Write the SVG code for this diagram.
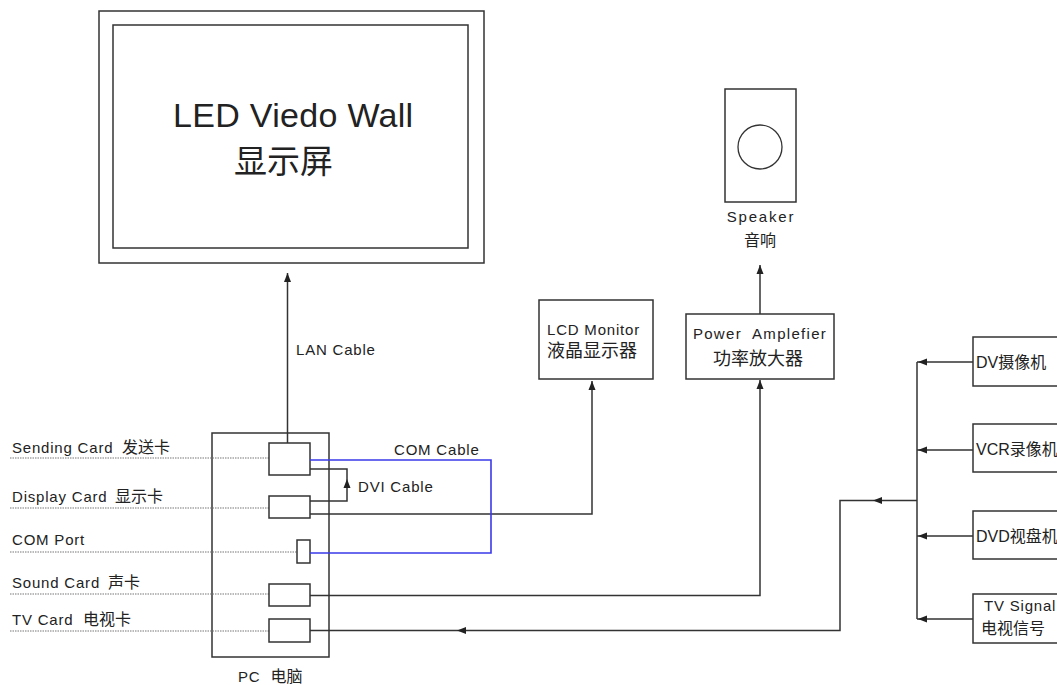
<svg xmlns="http://www.w3.org/2000/svg" xmlns:xlink="http://www.w3.org/1999/xlink" width="1057" height="685" viewBox="0 0 1057 685">
<style>
text{font-family:"Liberation Sans","Noto Sans CJK SC",sans-serif;fill:#222;}
.t{font-size:15px;letter-spacing:0.8px;}
.c{font-size:16px;letter-spacing:0;}
.box{fill:#fff;stroke:#333;stroke-width:1.5;}
.ln{fill:none;stroke:#333;stroke-width:1.5;}
.dot{fill:none;stroke:#777;stroke-width:1.2;stroke-dasharray:1.5 1;}
.blue{fill:none;stroke:#3a3aea;stroke-width:1.6;}
.ah{fill:#222;}
</style>
<defs>
<path id="ah" d="M0,0 L-9,-3.5 L-9,3.5 Z"/>
</defs>
<rect width="1057" height="685" fill="#fff"/>

<g id="led-wall">
<rect class="box" x="99" y="11" width="385" height="252"/>
<rect class="box" x="113" y="25" width="355" height="223"/>
<text x="173" y="127" style="font-size:34px;letter-spacing:0.3px;">LED Viedo Wall</text>
<text x="234" y="173" style="font-size:33px;">显示屏</text>
</g>

<g id="speaker">
<rect class="box" x="725" y="89" width="71" height="113"/>
<circle cx="760" cy="147" r="22" fill="none" stroke="#333" stroke-width="1.3"/>
<text class="t" x="761" y="222" text-anchor="middle" style="letter-spacing:1.8px;">Speaker</text>
<text class="c" x="760" y="246" text-anchor="middle">音响</text>
</g>

<g id="lcd-monitor">
<rect class="box" x="539" y="300" width="114" height="79"/>
<text class="t" x="547" y="335">LCD Monitor</text>
<text x="547" y="357" style="font-size:18px;">液晶显示器</text>
</g>

<g id="power-amplifier">
<rect class="box" x="686" y="314" width="148" height="65"/>
<text class="t" x="760" y="339" text-anchor="middle" xml:space="preserve" style="letter-spacing:1.3px;">Power  Amplefier</text>
<text x="758" y="365" text-anchor="middle" style="font-size:18px;">功率放大器</text>
</g>

<g id="pc">
<rect class="box" x="212" y="433" width="117" height="224"/>
<text class="t" x="238" y="682" xml:space="preserve">PC  <tspan class="c">电脑</tspan></text>
</g>

<g id="card-labels">
<path class="dot" d="M10,458 H269 M10,508 H269 M10,552 H297 M10,594 H269 M10,631 H269"/>
<text class="t" x="12" y="453">Sending Card <tspan class="c" x="122">发送卡</tspan></text>
<text class="t" x="12" y="502">Display Card <tspan class="c" x="115">显示卡</tspan></text>
<text class="t" x="12" y="545">COM Port</text>
<text class="t" x="12" y="588">Sound Card <tspan class="c" x="108">声卡</tspan></text>
<text class="t" x="12" y="625">TV Card <tspan class="c" x="83">电视卡</tspan></text>
</g>

<g id="sending-card"><rect class="box" x="269" y="443" width="41" height="32"/></g>
<g id="display-card"><rect class="box" x="269" y="496" width="41" height="22"/></g>
<g id="com-port"><rect class="box" x="297" y="540" width="13" height="23"/></g>
<g id="sound-card"><rect class="box" x="269" y="584" width="41" height="22"/></g>
<g id="tv-card"><rect class="box" x="269" y="619" width="41" height="23"/></g>

<g id="dv"><rect class="box" x="973" y="337" width="100" height="49"/><text class="c" x="976" y="368">DV摄像机</text></g>
<g id="vcr"><rect class="box" x="973" y="424" width="100" height="48"/><text class="c" x="976" y="455">VCR录像机</text></g>
<g id="dvd"><rect class="box" x="973" y="511" width="100" height="48"/><text class="c" x="976" y="542">DVD视盘机</text></g>
<g id="tv-signal"><rect class="box" x="973" y="594" width="100" height="49"/><text class="t" x="984" y="611">TV Signal</text><text class="c" x="981" y="634">电视信号</text></g>

<g id="connectors">
<path class="ln" d="M287.5,443 V273"/>
<path class="ln" d="M760,314 V265"/>
<path class="ln" d="M310,514 H592 V381"/>
<path class="ln" d="M310,595.5 H760 V380"/>
<path class="ln" d="M310,469 H347 V501 H310"/>
<path class="blue" d="M310,460 H491 V553 H310"/>
<path class="ln" d="M310,630.5 H840 V500.5 H917"/>
<path class="ln" d="M917,362 V619"/>
<path class="ln" d="M973,362 H917 M973,450 H917 M973,536 H917 M973,619 H917"/>
<use xlink:href="#ah" class="ah" transform="translate(287.5,273) rotate(-90)"/>
<use xlink:href="#ah" class="ah" transform="translate(760,265) rotate(-90)"/>
<use xlink:href="#ah" class="ah" transform="translate(592,381) rotate(-90)"/>
<use xlink:href="#ah" class="ah" transform="translate(760,380) rotate(-90)"/>
<use xlink:href="#ah" class="ah" transform="translate(347,479) rotate(-90)"/>
<use xlink:href="#ah" class="ah" transform="translate(457,630.5) rotate(180)"/>
<use xlink:href="#ah" class="ah" transform="translate(873,500.5) rotate(180)"/>
<use xlink:href="#ah" class="ah" transform="translate(918,362) rotate(180)"/>
<use xlink:href="#ah" class="ah" transform="translate(918,450) rotate(180)"/>
<use xlink:href="#ah" class="ah" transform="translate(918,536) rotate(180)"/>
<use xlink:href="#ah" class="ah" transform="translate(918,619) rotate(180)"/>
<text class="t" x="296" y="355">LAN Cable</text>
<text class="t" x="394" y="455">COM Cable</text>
<text class="t" x="358" y="492">DVI Cable</text>
</g>
</svg>
